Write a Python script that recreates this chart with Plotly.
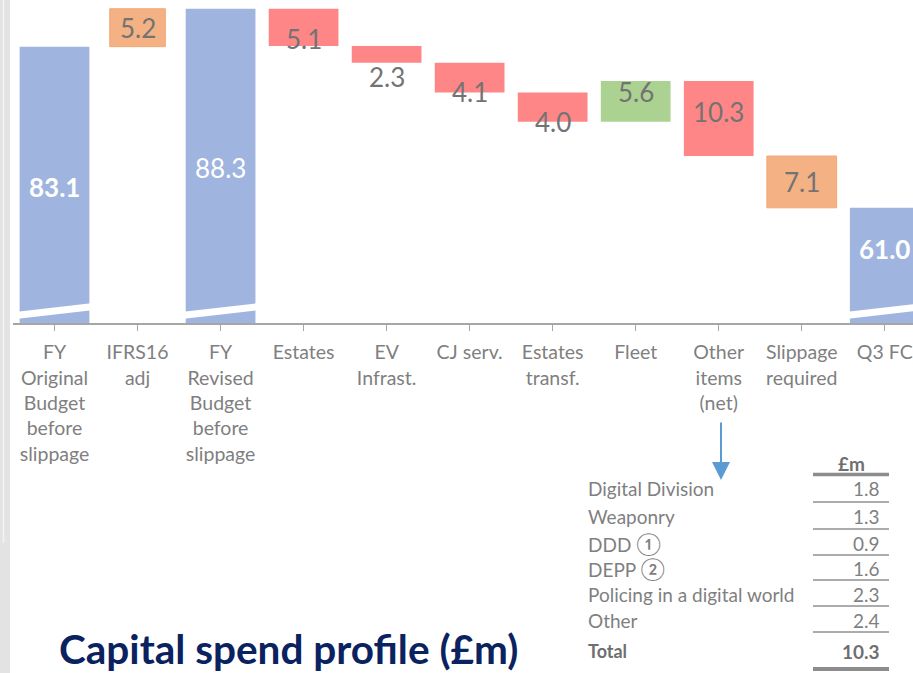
import plotly.graph_objects as go

# ---------------- data ----------------
categories = [
    "FY<br>Original<br>Budget<br>before<br>slippage",
    "IFRS16<br>adj",
    "FY<br>Revised<br>Budget<br>before<br>slippage",
    "Estates",
    "EV<br>Infrast.",
    "CJ serv.",
    "Estates<br>transf.",
    "Fleet",
    "Other<br>items<br>(net)",
    "Slippage<br>required",
    "Q3 FC",
]
values = [83.1, 5.2, 88.3, -5.1, -2.3, -4.1, -4.0, 5.6, -10.3, -7.1, 61.0]
kinds = ["total", "adjust", "total", "decrease", "decrease", "decrease",
         "decrease", "increase", "decrease", "adjust", "total"]

table_items = ["Digital Division", "Weaponry",
               "DDD <span style='font-size:22px'>\u2460</span>",
               "DEPP <span style='font-size:22px'>\u2461</span>",
               "Policing in a digital world", "Other"]
table_values = [1.8, 1.3, 0.9, 1.6, 2.3, 2.4]
table_total_label = "Total"
table_total = 10.3
table_unit = "£m"
title_text = "Capital spend profile (£m)"

# ---------------- style ----------------
W, H = 913, 673
ML, MR, MT, MB = 13, 0, 0, 350
PW, PH = W - ML - MR, H - MT - MB
YMIN, YMAX = 45.2, 89.5
FONT = "Lato"
GREY = "#7f7f7f"
colors = {"total": "#9fb5e0", "adjust": "#f4b183",
          "decrease": "#ff8686", "increase": "#acd291"}
bar_w = [0.84, 0.67, 0.84, 0.84, 0.84, 0.84, 0.84, 0.84, 0.84, 0.84, 0.84]
label_frac = [0.5, 0.5, 0.5, 0, 0, 0, 0, 1, 1, 0.5, 0.5]
label_shift = [-2, 0, -2, 7, -14, 1, 0, -11, -31, 0, 16]


def px_x(p):
    return (p - ML) / PW


def px_y(p):
    return (H - MB - p) / PH


# waterfall bases
bases, heights = [], []
running = 0.0
for v, k in zip(values, kinds):
    if k == "total":
        bases.append(0.0)
        heights.append(v)
        running = v
    else:
        bases.append(running)
        heights.append(v)
        running = round(running + v, 2)

xidx = list(range(len(categories)))

fig = go.Figure()
fig.add_trace(go.Bar(
    x=xidx, y=heights, base=bases, width=bar_w,
    marker=dict(color=[colors[k] for k in kinds],
                line=dict(width=[0, 1, 0, 0, 0, 0, 0, 0, 0, 1, 0],
                          color="#f0a878")),
    hoverinfo="skip", showlegend=False,
))

annotations = []
for i, (v, k, b, h) in enumerate(zip(values, kinds, bases, heights)):
    if k == "total":
        lo, hi = YMIN, v
        col = "white"
        txt = f"<b>{v:.1f}</b>" if i != 2 else f"{v:.1f}"
    else:
        lo, hi = min(b, b + h), max(b, b + h)
        col = "#737373"
        txt = f"{abs(v):.1f}"
    y = lo + label_frac[i] * (hi - lo)
    annotations.append(dict(x=i, y=y, xref="x", yref="y", text=txt,
                            showarrow=False, yshift=label_shift[i],
                            font=dict(family=FONT, size=26, color=col),
                            xanchor="center", yanchor="middle"))

shapes = []
# axis-break marks on total bars
for i, k in enumerate(kinds):
    if k == "total":
        shapes.append(dict(type="line", xref="x", yref="y domain",
                           x0=i - 0.47, x1=i + 0.47,
                           y0=7.5 / PH, y1=16.5 / PH,
                           line=dict(color="white", width=7)))

# left grey strip (slide edge)
shapes.append(dict(type="rect", xref="paper", yref="paper",
                   x0=px_x(0), x1=px_x(10), y0=px_y(H), y1=px_y(0),
                   fillcolor="#e3e3e3", line=dict(width=0), layer="above"))
shapes.append(dict(type="line", xref="paper", yref="paper",
                   x0=px_x(3.5), x1=px_x(3.5), y0=px_y(543), y1=px_y(0),
                   line=dict(color="#f4f4f4", width=1.5), layer="above"))

# table
TFS = 19
lab_x = px_x(586)
val_x = px_x(882)
row_y = [488, 516, 543, 568, 594, 620]
annotations.append(dict(x=px_x(851), y=px_y(463), xref="paper", yref="paper",
                        text=f"<b>{table_unit}</b>", showarrow=False,
                        xanchor="center", yanchor="middle",
                        font=dict(family=FONT, size=TFS, color="#6f6f6f")))
for lab, val, yy in zip(table_items, table_values, row_y):
    annotations.append(dict(x=lab_x, y=px_y(yy), xref="paper", yref="paper",
                            text=lab, showarrow=False, xanchor="left",
                            yanchor="middle",
                            font=dict(family=FONT, size=TFS, color=GREY)))
    annotations.append(dict(x=val_x, y=px_y(yy), xref="paper", yref="paper",
                            text=f"{val:.1f}", showarrow=False, xanchor="right",
                            yanchor="middle",
                            font=dict(family=FONT, size=TFS, color=GREY)))
annotations.append(dict(x=lab_x, y=px_y(651), xref="paper", yref="paper",
                        text=f"<b>{table_total_label}</b>", showarrow=False,
                        xanchor="left", yanchor="middle",
                        font=dict(family=FONT, size=TFS - 1, color="#6f6f6f")))
annotations.append(dict(x=val_x, y=px_y(651), xref="paper", yref="paper",
                        text=f"<b>{table_total:.1f}</b>", showarrow=False,
                        xanchor="right", yanchor="middle",
                        font=dict(family=FONT, size=TFS, color="#6f6f6f")))
# table rules
shapes.append(dict(type="line", xref="paper", yref="paper",
                   x0=px_x(813), x1=px_x(889), y0=px_y(474.5), y1=px_y(474.5),
                   line=dict(color="#8c8c8c", width=3.5)))
for yy in [502, 529, 555, 580, 606, 632]:
    shapes.append(dict(type="line", xref="paper", yref="paper",
                       x0=px_x(813), x1=px_x(889), y0=px_y(yy), y1=px_y(yy),
                       line=dict(color="#595959", width=1)))
shapes.append(dict(type="line", xref="paper", yref="paper",
                   x0=px_x(813), x1=px_x(889), y0=px_y(669), y1=px_y(669),
                   line=dict(color="#8c8c8c", width=4)))

# arrow from "Other items" to table
annotations.append(dict(x=px_x(721), y=px_y(480), xref="paper", yref="paper",
                        ax=0, ay=-59, axref="pixel", ayref="pixel",
                        text="", showarrow=True, arrowhead=2, arrowsize=1.8,
                        arrowwidth=2, arrowcolor="#5b9bd5"))

# title
annotations.append(dict(x=px_x(288), y=px_y(648), xref="paper", yref="paper",
                        text=f"<b>{title_text}</b>", showarrow=False,
                        xanchor="center", yanchor="middle",
                        font=dict(family=FONT, size=40.5, color="#0b2260")))

fig.update_layout(
    width=W, height=H,
    margin=dict(l=ML, r=MR, t=MT, b=MB, pad=0),
    paper_bgcolor="white", plot_bgcolor="white",
    bargap=0.16,
    xaxis=dict(range=[-0.5, 10.34], tickmode="array", tickvals=xidx,
               ticktext=categories, tickson="boundaries",
               ticks="outside", ticklen=6, tickcolor="#a6a6a6", tickwidth=1,
               showline=True, linecolor="#a6a6a6", linewidth=1.5,
               showgrid=False, zeroline=False, ticklabelstandoff=5,
               tickfont=dict(family=FONT, size=19.5, color=GREY)),
    yaxis=dict(range=[YMIN, YMAX], visible=False, showgrid=False,
               zeroline=False),
    annotations=annotations, shapes=shapes,
    font=dict(family=FONT),
)

fig.write_html("out.html", config={"displayModeBar": False},
               post_script="document.body.style.margin='0';"
                           "document.body.style.padding='0';")
